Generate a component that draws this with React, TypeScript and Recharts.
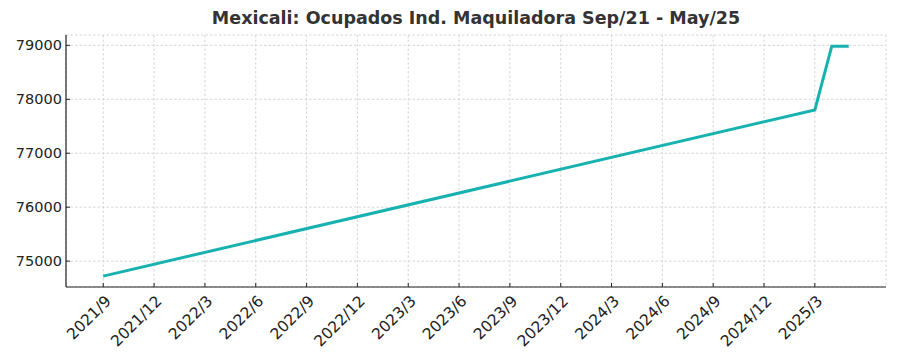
import React from 'react';
import {
  LineChart,
  Line,
  XAxis,
  YAxis,
  CartesianGrid,
} from 'recharts';

// month index 0 = 2021/9
const MONTHS = ['2021/9', '2025/3', '2025/4', '2025/5'];
const OCUPADOS = [74722, 77803, 78985, 78985];
const X_TICKS = [0, 3, 6, 9, 12, 15, 18, 21, 24, 27, 30, 33, 36, 39, 42];
const Y_TICKS = [75000, 76000, 77000, 78000, 79000];

const FONT = '"DejaVu Sans", sans-serif';
const TEAL = '#17b2b0';

const monthIndex = (label: string) => {
  const [y, m] = label.split('/').map(Number);
  return (y - 2021) * 12 + (m - 9);
};

const monthLabel = (i: number) => {
  const total = 2021 * 12 + 8 + i;
  return `${Math.floor(total / 12)}/${(total % 12) + 1}`;
};

const data = MONTHS.map((m, i) => ({ idx: monthIndex(m), value: OCUPADOS[i] }));

const XTick = (props: any) => {
  const { x, y, payload } = props;
  return (
    <g transform={`translate(${x},${y})`}>
      <line x1={0} y1={-5} x2={0} y2={-9} stroke="#222" strokeWidth={1} />
      <text
        transform="rotate(-45)"
        textAnchor="end"
        dy="0.85em"
        dx={-1}
        fill="#222"
        fontSize={15.5}
        fontFamily={FONT}
      >
        {monthLabel(payload.value)}
      </text>
    </g>
  );
};

const YTick = (props: any) => {
  const { x, y, payload } = props;
  return (
    <g transform={`translate(${x},${y})`}>
      <line x1={4} y1={0} x2={8} y2={0} stroke="#222" strokeWidth={1} />
      <text textAnchor="end" dy="0.35em" fill="#222" fontSize={14.5} fontFamily={FONT}>
        {payload.value}
      </text>
    </g>
  );
};

export default function App() {
  return (
    <div style={{ position: 'absolute', left: 0, top: 0, width: 900, height: 360, background: '#fff' }}>
      <div
        style={{
          position: 'absolute',
          left: 66,
          width: 820,
          top: 8,
          textAlign: 'center',
          fontFamily: FONT,
          fontWeight: 'bold',
          fontSize: 17.5,
          color: '#333',
        }}
      >
        Mexicali: Ocupados Ind. Maquiladora Sep/21 - May/25
      </div>
      <LineChart
        width={900}
        height={360}
        data={data}
        margin={{ top: 35, right: 14, bottom: 0, left: 6 }}
      >
        <CartesianGrid stroke="#d6d6d6" strokeDasharray="2.5 2" />
        <XAxis
          type="number"
          dataKey="idx"
          domain={[-2.2, 46.2]}
          ticks={X_TICKS}
          interval={0}
          height={73}
          tickSize={0}
          tickMargin={5}
          tick={<XTick />}
          axisLine={{ stroke: '#222', strokeWidth: 1.2 }}
          allowDataOverflow
        />
        <YAxis
          type="number"
          domain={[74520, 79192]}
          ticks={Y_TICKS}
          width={60}
          tickSize={0}
          tickMargin={4}
          tick={<YTick />}
          axisLine={{ stroke: '#222', strokeWidth: 1.2 }}
          allowDataOverflow
        />
        <Line
          type="linear"
          dataKey="value"
          stroke={TEAL}
          strokeWidth={3}
          dot={false}
          isAnimationActive={false}
        />
      </LineChart>
    </div>
  );
}
